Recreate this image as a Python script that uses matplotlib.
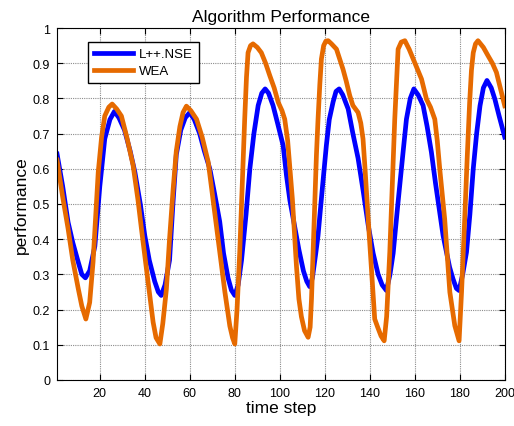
import matplotlib
matplotlib.use('Agg')
import matplotlib.pyplot as plt

# values
lpp_x = [1, 3.5, 5.9, 8, 10.4, 12, 13.6, 15.5, 17.8, 20, 22.2, 24.5, 26.5, 28.5, 31, 33.5, 35.6, 38, 40, 42,
         44.4, 46, 47.3, 49, 51, 52.5, 54, 56, 58, 60, 62, 64.4, 66.5, 68.9, 71, 73.3, 75, 77, 78.5, 80,
         81.5, 83, 85, 86.7, 88.5, 90.4, 92, 93.5, 95, 97, 99, 101.5, 103, 104.5, 106.5, 108.5, 110.5, 112, 113.3, 114.5,
         116, 117, 119, 120.7, 122, 123.7, 125, 126.4, 128, 130.4, 132.5, 134.8, 137, 139.3, 141.5, 143.7, 145.5, 147.4, 149, 150.4,
         152.5, 154.8, 156.3, 158, 159.6, 161.5, 163.7, 165.5, 167.4, 169.2, 171.1, 172.6, 174.1, 175.5, 177, 178.5, 179.7, 181.3, 183, 184.5,
         186, 187.5, 189, 190.5, 192.1, 194, 195.6, 197.5, 200]
lpp_y = [0.642, 0.55, 0.448, 0.39, 0.335, 0.30, 0.29, 0.31, 0.38, 0.55, 0.685, 0.74, 0.763, 0.745, 0.71, 0.65, 0.59, 0.50, 0.41, 0.34,
         0.28, 0.25, 0.24, 0.27, 0.34, 0.50, 0.64, 0.71, 0.745, 0.76, 0.74, 0.70, 0.65, 0.60, 0.53, 0.45, 0.36, 0.29, 0.255, 0.24,
         0.27, 0.34, 0.47, 0.60, 0.70, 0.78, 0.815, 0.827, 0.815, 0.78, 0.73, 0.666, 0.58, 0.51, 0.44, 0.37, 0.31, 0.28, 0.265, 0.29,
         0.36, 0.41, 0.55, 0.666, 0.74, 0.79, 0.82, 0.827, 0.81, 0.77, 0.70, 0.63, 0.54, 0.44, 0.36, 0.30, 0.27, 0.254, 0.30, 0.36,
         0.50, 0.647, 0.741, 0.80, 0.827, 0.81, 0.78, 0.72, 0.647, 0.56, 0.476, 0.41, 0.363, 0.32, 0.287, 0.26, 0.254, 0.30, 0.363, 0.47,
         0.60, 0.70, 0.779, 0.83, 0.851, 0.83, 0.798, 0.75, 0.69]

wea_x = [1, 3.5, 5.9, 8, 10.4, 12, 13.8, 15.5, 17, 18.2, 19.3, 20.8, 22.2, 24, 25.5, 27.5, 29.6, 32, 34.8, 37,
         38.5, 40, 42, 43.7, 45, 46.7, 48, 49.6, 51, 52.6, 54, 55.6, 57, 58.5, 60.5, 63, 65.5, 68.2, 70, 71.9,
         73.8, 75.6, 77.8, 79, 80, 81, 82.2, 83.3, 84.4, 85.2, 85.9, 87, 88.1, 90, 91.8, 93.7, 95.6, 97.5, 99.3, 101,
         102.2, 103.5, 104.5, 105.6, 106.5, 107.4, 108.5, 109.6, 111, 112.6, 113.5, 114.1, 114.8, 115.6, 116.3, 117, 117.8, 118.5, 119.5, 120.5,
         121.5, 123, 125.2, 126.7, 128.1, 129.5, 131.1, 132.5, 134.8, 136, 137, 138, 139.3, 140.8, 142.2, 143.5, 145, 146.4, 147.5, 148.9,
         150, 151.1, 151.9, 152.6, 154, 155.6, 157.5, 159.3, 161, 163, 165.2, 167, 168.9, 170, 171.1, 172.2, 173.3, 174.5, 175.6, 177.8,
         179.7, 180.8, 182.2, 183.3, 184.4, 185.2, 186, 187, 188.1, 190.5, 192.6, 194.5, 196.3, 198, 200]
wea_y = [0.625, 0.52, 0.43, 0.34, 0.26, 0.21, 0.173, 0.22, 0.335, 0.47, 0.59, 0.69, 0.75, 0.775, 0.784, 0.77, 0.75, 0.69, 0.61, 0.51,
         0.43, 0.353, 0.25, 0.164, 0.12, 0.102, 0.16, 0.258, 0.40, 0.542, 0.65, 0.72, 0.76, 0.778, 0.765, 0.741, 0.69, 0.619, 0.53, 0.438,
         0.34, 0.25, 0.153, 0.12, 0.102, 0.20, 0.363, 0.55, 0.74, 0.86, 0.93, 0.95, 0.955, 0.945, 0.93, 0.90, 0.864, 0.83, 0.789, 0.765,
         0.741, 0.68, 0.60, 0.514, 0.42, 0.325, 0.23, 0.18, 0.14, 0.121, 0.15, 0.23, 0.363, 0.514, 0.64, 0.74, 0.84, 0.912, 0.95, 0.963,
         0.964, 0.955, 0.94, 0.91, 0.883, 0.85, 0.808, 0.78, 0.76, 0.73, 0.685, 0.59, 0.457, 0.31, 0.173, 0.15, 0.125, 0.111, 0.18, 0.363,
         0.55, 0.74, 0.85, 0.94, 0.96, 0.964, 0.94, 0.912, 0.885, 0.855, 0.798, 0.775, 0.741, 0.68, 0.60, 0.53, 0.457, 0.35, 0.249, 0.154,
         0.111, 0.25, 0.457, 0.63, 0.789, 0.88, 0.93, 0.955, 0.964, 0.945, 0.921, 0.90, 0.874, 0.83, 0.779]

x_ticks = [20, 40, 60, 80, 100, 120, 140, 160, 180, 200]
y_ticks = [0, 0.1, 0.2, 0.3, 0.4, 0.5, 0.6, 0.7, 0.8, 0.9, 1]

plt.rcParams['font.family'] = ['Liberation Sans', 'DejaVu Sans']

fig = plt.figure(figsize=(5.14, 4.27), dpi=100)
ax = fig.add_axes([0.111, 0.108, 0.871, 0.824])

ax.plot(lpp_x, lpp_y, color='#0000FF', lw=3.4, label='L++.NSE', solid_joinstyle='round')
ax.plot(wea_x, wea_y, color='#E66A00', lw=3.4, label='WEA', solid_joinstyle='round')

ax.set_xlim(1, 200)
ax.set_ylim(0, 1)
ax.set_xticks(x_ticks)
ax.set_yticks(y_ticks)
ax.set_yticklabels(['%g' % v for v in y_ticks])
ax.tick_params(direction='in', top=True, right=True, labelsize=9, length=4, width=0.8, colors='black', pad=5)
ax.grid(True, linestyle=(0, (1, 1)), color='#8c8c8c', lw=0.8)
for s in ax.spines.values():
    s.set_color('black')
    s.set_linewidth(0.8)

ax.set_title('Algorithm Performance', fontsize=12.5, pad=5)
ax.set_xlabel('time step', fontsize=12.5, labelpad=1)
ax.set_ylabel('performance', fontsize=12.5, labelpad=3)

leg = ax.legend(loc='upper left', bbox_to_anchor=(0.069, 0.96), borderaxespad=0, fancybox=False,
                edgecolor='black', framealpha=1, fontsize=9.5, handlelength=3.0, borderpad=0.45,
                labelspacing=0.35, handletextpad=0.4)
leg.get_frame().set_linewidth(1.0)

fig.savefig('out.png', dpi=100)
